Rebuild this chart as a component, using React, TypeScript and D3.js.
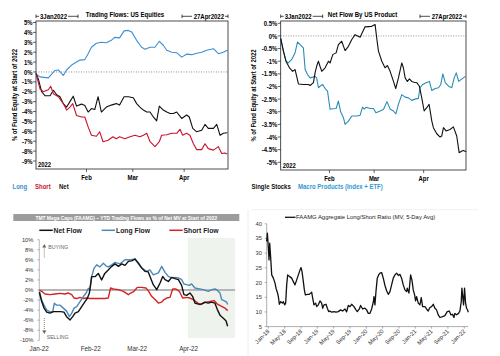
import React from 'react';
import * as d3 from 'd3';

type Pt = [number, number];

// ---------- Panel 1: Trading Flows: US Equities (x = day of 2022, Jan 1 = 0; y = %) ----------
const p1Long: Pt[] = [[0.9,-0.25],[2.9,-0.5],[7.95,-0.6],[12,0.15],[14,0.2],[17,-0.35],[19,0.2],[22,0.7],[25,1.0],[27,1.2],[30,1.25],[32,1.85],[34,2.5],[37,2.9],[40,3.0],[43,2.95],[46,3.2],[48,3.5],[51,3.45],[53.7,4.15],[56.3,4.2],[58.3,4.05],[61.3,3.2],[64.3,2.5],[66.4,2.3],[69.4,2.5],[72.4,2.5],[75,3.1],[77.4,2.7],[79.5,2.2],[82.5,2.0],[85.5,1.95],[88.5,1.5],[91.5,1.8],[94.6,1.75],[97.6,1.9],[100.6,2.0],[103.6,2.2],[107.7,2.35],[110.7,1.85],[113.7,2.0],[116.1,2.2]];
const p1NetX = [0.5,1.9,3.9,5.9,9,11,13,15,17,19,21,23,25,28,30,32,34,36,38,40,43,46,49,51,53.7,56.3,59.3,61.3,63.3,65.4,67.4,69.4,71.4,73.4,75,77.4,79.5,81.5,83.5,85.5,88.5,91.5,93.1,95.2,97.6,100.6,102.6,104.6,107.7,109.7,111.7,113.7,116.1];
const p1NetY = [-0.15,-0.7,-2.0,-2.4,-2.4,-1.85,-2.3,-2.5,-3.2,-3.55,-3.0,-2.45,-3.45,-3.25,-3.4,-4.05,-3.7,-3.8,-2.5,-4.05,-3.55,-3.35,-3.2,-3.35,-2.5,-2.5,-2.6,-3.2,-3.55,-3.85,-4.05,-4.05,-4.55,-4.95,-3.45,-3.85,-4.05,-4.2,-4.2,-4.05,-4.7,-4.35,-4.55,-5.7,-6.05,-5.9,-5.3,-5.7,-5.7,-5.3,-6.4,-6.2,-6.15];
const p1ShortX = [0.5,2.9,4.9,7.95,9.4,11,14,17,19,21,22.7,25,28,30,32,34,37,39,41,44,47,49,51,54.3,57.3,60.3,63.3,65.4,67.4,69.4,72.4,75,76.4,79.5,82.5,85.5,87.5,89.1,91.5,93.5,95.6,97.6,100.6,102.6,104.6,107.7,110.7,112.7,114.7,116.1];
const p1ShortY = [-0.15,-1.7,-2.0,-1.8,-1.45,-2.2,-2.5,-3.2,-3.85,-3.55,-3.2,-4.4,-4.55,-4.55,-5.55,-6.4,-6.5,-6.05,-7.05,-6.9,-6.55,-6.75,-6.55,-6.75,-6.55,-6.4,-6.55,-6.4,-6.2,-7.05,-7.55,-7.05,-6.4,-6.35,-6.2,-6.2,-5.8,-6.4,-6.2,-6.4,-7.25,-7.85,-7.85,-7.25,-7.75,-7.9,-7.55,-8.25,-8.2,-8.3];
const p1YTicks = [5,4,3,2,1,0,-1,-2,-3,-4,-5,-6,-7,-8,-9];
const monthTicks: [number, string][] = [[31,'Feb'],[59,'Mar'],[90,'Apr']];

// ---------- Panel 2: Net Flow By US Product ----------
const p2SingleX = [0.5,2.2,3.8,5.9,8,9.5,10.5,11.6,14.7,17.8,18.9,21,22,23,24.1,25.1,26.2,28.3,30.4,31.4,33.1,35.2,36.6,38.7,40.8,42.9,45,47.1,50.2,53.3,57.5,59.6,60.6,61.7,63.8,65.8,67.3,69,71.1,72.5,74.2,76.3,77.3,78.4,79.8,81.1,82.5,84,85.7,87.3,88.8,90.3,91.9,93.4,95.1,96.1,98.2,100.3,101.3,102.4,104,106.5,108.6,110.7,112.2,113.9,114.9,116.6];
const p2SingleY = [-0.1,-0.6,-1.0,-1.25,-1.4,-1.33,-1.6,-1.9,-1.92,-1.92,-1.96,-1.85,-1.46,-1.2,-1.0,-1.2,-1.4,-1.26,-1.0,-1.07,-0.74,-0.67,-0.34,-0.21,-0.58,-0.41,-0.14,0.05,-0.05,0.36,0.38,0.45,-0.08,-0.6,-1.0,-1.26,-1.17,-1.4,-1.8,-2.08,-1.66,-1.07,-1.26,-1.66,-1.8,-1.7,-1.8,-1.83,-1.85,-1.99,-2.45,-2.97,-2.84,-2.71,-3.37,-3.63,-3.87,-4.0,-3.96,-3.63,-3.76,-3.7,-3.6,-3.96,-4.62,-4.55,-4.53,-4.58];
const p2MacroX = [0.5,2.2,3.8,5.3,7.4,9.5,11,12.7,14.7,15.8,17.3,18.9,20.6,22,23,24.1,25.1,26.8,28.3,29.8,31.4,33.1,35.2,36.6,38.1,39.8,40.8,42.9,45,48.2,50.2,51.7,52.8,54,56.5,58.6,60.1,62.8,64.9,67,69.1,71.1,72.6,74.2,76.3,78.4,80.5,82.5,84.6,86.7,87.7,89.4,91.5,93.6,95.1,97.2,99.3,100.7,102,103.5,105.6,107.6,109.1,110.4,111.9,114,116.1];
const p2MacroY = [-0.1,-0.6,-1.0,-1.07,-0.93,-0.67,-0.24,-0.34,-0.47,-1.33,-1.53,-1.66,-1.63,-1.6,-1.66,-2.05,-1.99,-1.92,-2.08,-2.18,-2.9,-2.88,-2.87,-2.58,-3.01,-3.24,-3.5,-3.37,-3.17,-3.17,-3.14,-2.82,-2.9,-2.82,-2.87,-2.87,-3.04,-2.97,-2.9,-2.6,-2.9,-2.97,-3.08,-2.71,-2.32,-2.42,-2.45,-2.55,-2.5,-2.47,-2.05,-1.92,-1.85,-1.8,-2.16,-2.08,-2.05,-1.92,-1.5,-1.85,-1.99,-2.05,-1.66,-1.46,-1.8,-1.7,-1.6];
const p2YTicks = [0.5,0,-0.5,-1,-1.5,-2,-2.5,-3,-3.5,-4,-4.5,-5];

// ---------- Panel 3: TMT Mega Caps (FAAMG) YTD flows ----------
const p3Net: Pt[] = [[0.1,-0.45],[1.5,-2.3],[2.9,-3.6],[4.5,-4.4],[6.5,-4.6],[8.5,-4.3],[10.9,-4.3],[12.9,-4.3],[14.9,-4.4],[16.5,-5.3],[18.6,-5.95],[20.2,-5.3],[21.6,-4.6],[23.6,-4.3],[25.6,-3.3],[27.6,-2.3],[29,-1.65],[30.2,-0.66],[31.6,2.65],[33.6,2.65],[35.6,3.3],[37.6,2.0],[39.5,3.3],[41.6,3.97],[43.3,4.6],[45.7,5.2],[47.7,4.7],[49.7,5.2],[51.7,4.9],[53.7,5.7],[55.7,5.8],[57.7,6.15],[59.7,5.4],[61.7,4.4],[63.7,3.7],[65.7,3.6],[67.1,2.4],[68.7,1.06],[70.8,0.07],[72.8,1.4],[74.4,2.7],[75.8,2.05],[77.8,1.7],[79.8,2.5],[81.8,2.25],[83.8,2.05],[85.8,0.93],[87.2,-0.93],[88.8,-1.06],[90.8,-0.6],[92.4,-1.26],[93.8,-2.6],[95.8,-2.8],[97.8,-2.8],[99.8,-2.4],[101.8,-2.6],[103.8,-2.4],[105.8,-2.6],[107.3,-3.9],[108.9,-5.0],[110.9,-5.6],[112.5,-6.1],[113.5,-7.2]];
const p3Long: Pt[] = [[0.1,-0.3],[1.5,-2.0],[2.9,-3.0],[4.5,-4.0],[6.5,-4.3],[8.1,-4.4],[9.1,-2.65],[10.5,-3.0],[12.5,-3.0],[14.5,-3.6],[16.5,-4.2],[18.2,-5.3],[19.6,-4.6],[21,-3.6],[22.6,-3.3],[24.6,-2.3],[26.6,-1.3],[28.2,-0.66],[29.6,0.33],[30.6,0],[31.6,2.65],[33,4.3],[34.6,5.0],[36.6,4.6],[38.6,5.3],[40.2,4.8],[41.6,4.6],[43.7,5.0],[45.7,5.5],[48.7,5.2],[51.7,6.0],[54.7,6.0],[57.7,6.15],[59.7,5.2],[61.7,4.4],[64.7,3.7],[66.7,4.0],[68.7,3.0],[71.8,3.4],[73.8,4.7],[75.8,3.5],[77.8,2.7],[79.8,2.4],[81.8,2.5],[83.8,2.4],[85.8,2.05],[87.2,1.2],[88.8,1.06],[90.4,0.93],[91.8,1.2],[93.8,0.4],[95.8,0.26],[98.8,0.07],[101.9,-0.26],[103.9,0.07],[105.9,0.2],[106.9,0.07],[108.9,-0.6],[109.9,-1.9],[111.3,-2.1],[112.9,-2.4],[113.5,-2.9]];
const p3Short: Pt[] = [[0.1,0],[1.5,-0.26],[3.5,-0.8],[6.5,-0.93],[9.5,-0.8],[12.5,-0.66],[15.5,-0.8],[17.6,-0.6],[19.6,-0.93],[21,-1.6],[22.6,-1.7],[24.6,-1.46],[26.6,-1.7],[28.6,-1.6],[30.6,-1.7],[33.6,-1.7],[36.6,-1.7],[39.6,-1.7],[41.6,-1.6],[43,0.4],[44.6,0.2],[47.7,0.07],[50.7,-0.26],[53.7,-0.93],[55.1,-0.6],[57.1,-0.26],[59.1,0.53],[61.7,0.53],[64.3,0.4],[65.7,-0.13],[67.7,-1.26],[69.8,-1.9],[71.8,-2.6],[73.8,-2.4],[75.2,-1.9],[76.8,-1.6],[78.8,-1.46],[80.4,0.2],[82.4,0.2],[84.4,-0.26],[86.4,-1.6],[88.8,-1.46],[90.8,-1.6],[92.8,-1.9],[94.8,-2.4],[96.8,-2.9],[98.8,-2.6],[100.8,-2.4],[102.9,-2.25],[105.3,-2.1],[107.3,-2.8],[109.9,-3.25],[111.9,-3.6],[113.5,-4.1]];
const p3YTicks = [10,8,6,4,2,0,-2,-4,-6,-8,-10];
const p3XTicks: [number, string][] = [[0,'Jan-22'],[31,'Feb-22'],[59,'Mar-22'],[90,'Apr-22']];

// ---------- Panel 4: FAAMG Aggregate Long/Short Ratio (x = months since Jan-18) ----------
const p4Ratio: Pt[] = [[-0.41,34],[-0.24,36.8],[0,31.7],[0.16,27.7],[0.33,33.4],[0.57,28.3],[0.82,22.6],[1.22,21.5],[1.63,19.8],[1.88,18],[2.2,16.7],[2.45,15.2],[2.69,12.6],[3.02,13.5],[3.43,13],[3.67,13.5],[4.0,12.4],[4.24,13],[4.49,19.2],[4.73,22.6],[5.14,22.1],[5.71,21.5],[6.12,20.3],[6.53,19.2],[6.94,20.9],[7.35,22.6],[7.76,24.3],[8.0,25.1],[8.24,23.8],[8.57,20.3],[8.82,17.5],[9.06,15.8],[9.55,16],[10.04,16],[10.37,16.4],[10.61,16.7],[10.86,14.7],[11.18,12.4],[11.59,13],[11.84,11.8],[12.24,12.4],[12.65,13.75],[13.06,13],[13.31,11.25],[13.63,12.4],[14.12,12.6],[14.45,11.25],[14.78,10.1],[15.1,10.3],[15.51,9.9],[16.08,10.1],[16.57,9.9],[17.14,10.1],[17.71,10.7],[18.2,10.3],[18.78,11],[19.18,10],[19.59,12.2],[20.0,11.8],[20.41,12.6],[20.98,11.8],[21.47,10.7],[21.8,10.1],[22.29,11],[22.61,12.2],[23.1,11],[23.67,11.25],[24.08,10.7],[24.49,9.5],[24.9,9.5],[25.31,11],[25.71,13.3],[25.88,15.2],[26.12,12.4],[26.37,16.9],[26.69,21.5],[27.02,22.6],[27.35,23.2],[27.76,23.4],[28.16,21.5],[28.57,19],[28.98,17.2],[29.39,16],[29.8,16.9],[30.2,19.2],[30.61,21.5],[31.02,22.6],[31.43,23.2],[31.84,22.4],[32.24,22.8],[32.65,21.5],[33.06,19.2],[33.47,17.5],[33.88,16.9],[34.04,18.1],[34.45,16.4],[34.86,22.6],[35.18,20.9],[35.51,17.5],[35.84,15.8],[36.08,13.75],[36.33,15.2],[36.73,13],[37.14,12.4],[37.47,14.9],[37.8,11.8],[38.37,11.8],[38.78,11],[39.18,10.3],[39.59,11.5],[40.0,11.8],[40.41,12.6],[40.82,11.25],[41.22,10.7],[41.63,9],[42.04,8.1],[42.69,8.4],[43.27,8.75],[43.84,10.1],[44.33,10.3],[44.73,9],[45.14,9.2],[45.47,8.1],[45.71,9.5],[46.12,9],[46.61,9.5],[46.94,10.3],[47.27,13.5],[47.43,18.1],[47.67,14.7],[47.84,12.4],[48.08,18.1],[48.33,13],[48.57,11.25],[48.82,10.7],[48.98,9.9]];
const p4YTicks = [40,35,30,25,20,15,10,5];
const p4XLabels = ['Jan-18','May-18','Sep-18','Jan-19','May-19','Sep-19','Jan-20','May-20','Sep-20','Jan-21','May-21','Sep-21','Jan-22'];

const SANS = "'Liberation Sans', Arial, sans-serif";
const SQ = 0.8; // horizontal squeeze imitating a condensed bold face

const zip = (xs: number[], ys: number[]): Pt[] => xs.map((x, i) => [x, ys[i]]);

function NT({ x, y, anchor = 'start', size = 7.5, fill = '#000', rotate, children }:
  { x: number; y: number; anchor?: 'start' | 'middle' | 'end'; size?: number; fill?: string; rotate?: number; children: React.ReactNode }) {
  const tr = `translate(${x},${y})${rotate !== undefined ? ` rotate(${rotate})` : ''} scale(${SQ},1)`;
  return <text transform={tr} textAnchor={anchor} fontSize={size} fontWeight="bold" fontFamily={SANS} fill={fill}>{children}</text>;
}

function Path({ data, x, y, color, width }: { data: Pt[]; x: any; y: any; color: string; width: number }) {
  const line = d3.line<Pt>().x(d => x(d[0])).y(d => y(d[1]));
  return <path d={line(data) || ''} fill="none" stroke={color} strokeWidth={width} strokeLinejoin="round" />;
}

function DateTag({ x1, x2, y, label, anchor }: { x1: number; x2: number; y: number; label: string; anchor: 'start' | 'end' }) {
  const textW = anchor === 'start' ? 27 : 31;
  return (
    <g stroke="#000" strokeWidth={0.7}>
      <line x1={x1} x2={x1} y1={y - 1.8} y2={y + 1.8} />
      <line x1={x2} x2={x2} y1={y - 1.8} y2={y + 1.8} />
      {anchor === 'start' ? (
        <>
          <line x1={x1} x2={x1 + 3} y1={y} y2={y} />
          <line x1={x1 + 5 + textW} x2={x2} y1={y} y2={y} />
          <g stroke="none"><NT x={x1 + 4} y={y + 2.6} size={7.5}>{label}</NT></g>
        </>
      ) : (
        <>
          <line x1={x1} x2={x2 - 5 - textW} y1={y} y2={y} />
          <line x1={x2 - 3} x2={x2} y1={y} y2={y} />
          <g stroke="none"><NT x={x2 - 4} y={y + 2.6} anchor="end" size={7.5}>{label}</NT></g>
        </>
      )}
    </g>
  );
}

function TopPanel(props: {
  left: number; right: number; top: number; bottom: number; labelOff: number;
  yDomain: [number, number]; yRange: [number, number]; yTicks: number[];
  title: string; titleX: number; series: { data: Pt[]; color: string }[];
}) {
  const { left, right, top, bottom, labelOff, yDomain, yRange, yTicks, title, titleX, series } = props;
  const x = d3.scaleLinear().domain([0.5, 116.5]).range([left, right]);
  const y = d3.scaleLinear().domain(yDomain).range(yRange);
  return (
    <g>
      <NT x={titleX} y={16.8} anchor="middle" size={7.6}>{title}</NT>
      <DateTag x1={left} x2={left + 42} y={16.3} label="3Jan2022" anchor="start" />
      <DateTag x1={right - 46} x2={right} y={16.3} label="27Apr2022" anchor="end" />
      <line x1={left} x2={right} y1={y(0)} y2={y(0)} stroke="#777" strokeWidth={0.8} strokeDasharray="1,1.5" />
      {series.map((s, i) => <Path key={i} data={s.data} x={x} y={y} color={s.color} width={1.1} />)}
      <rect x={left} y={top} width={right - left} height={bottom - top} fill="none" stroke="#222" strokeWidth={0.8} />
      {yTicks.map(t => (
        <g key={t}>
          <line x1={left - 3} x2={left} y1={y(t)} y2={y(t)} stroke="#222" strokeWidth={0.7} />
          <NT x={left - 3.5} y={y(t) + 2.6} anchor="end" size={7.4}>{`${t}%`}</NT>
        </g>
      ))}
      {monthTicks.map(([d, l]) => (
        <g key={l}>
          <line x1={x(d)} x2={x(d)} y1={bottom} y2={bottom + 3} stroke="#222" strokeWidth={0.7} />
          <NT x={x(d)} y={bottom + 11} anchor="middle" size={7.4}>{l}</NT>
        </g>
      ))}
      <NT x={left + 2} y={bottom - 2} size={7.4}>2022</NT>
      <NT x={left - labelOff} y={(top + bottom) / 2} anchor="middle" size={7.4} rotate={-90}>% of Fund Equity at Start of 2022</NT>
    </g>
  );
}

export default function App() {
  const x3 = d3.scaleLinear().domain([0, 118]).range([39.2, 235.1]);
  const y3 = d3.scaleLinear().domain([-10, 10]).range([340.3, 239.7]);
  const x4 = d3.scaleLinear().domain([-0.41, 49]).range([266.7, 468.3]);
  const y4 = d3.scaleLinear().domain([5, 40]).range([326.6, 223.8]);

  return (
    <svg width={500} height={356} style={{ position: 'absolute', left: 0, top: 0, background: '#fff' }} fontFamily={SANS}>
      <rect width={500} height={356} fill="#fff" />
      {/* Panel 1 */}
      <TopPanel left={36} right={228} top={21} bottom={169} labelOff={19} yDomain={[-9, 5]} yRange={[161, 22.5]} yTicks={p1YTicks}
        title="Trading Flows: US Equities" titleX={125}
        series={[{ data: p1Long, color: '#3d8fd4' }, { data: zip(p1NetX, p1NetY), color: '#111' }, { data: zip(p1ShortX, p1ShortY), color: '#c8142e' }]} />
      <NT x={12.5} y={188.5} fill="#3d8fd4">Long</NT>
      <NT x={35} y={188.5} fill="#c8142e">Short</NT>
      <NT x={59} y={188.5} fill="#111">Net</NT>

      {/* Panel 2 */}
      <TopPanel left={280.7} right={466} top={21} bottom={170} labelOff={24.5} yDomain={[-5, 0.5]} yRange={[162.3, 23.3]} yTicks={p2YTicks}
        title="Net Flow By US Product" titleX={362.5}
        series={[{ data: zip(p2MacroX, p2MacroY), color: '#2a8db4' }, { data: zip(p2SingleX, p2SingleY), color: '#111' }]} />
      <NT x={251.5} y={188.5} fill="#111">Single Stocks</NT>
      <NT x={298} y={188.5} fill="#2f9bd0">Macro Products (Index + ETF)</NT>

      {/* separators */}
      <line x1={248} x2={248} y1={210} y2={356} stroke="#eee" strokeWidth={1} />
      <line x1={252} x2={478} y1={209.7} y2={209.7} stroke="#f0f0f0" strokeWidth={1} />

      {/* Panel 3 */}
      <rect x={13.3} y={214} width={226} height={7} fill="#9c9c9c" />
      <text x={126.3} y={219.6} textAnchor="middle" fontSize={4.9} fontWeight="bold" fill="#fff">TMT Mega Caps (FAAMG) – YTD Trading Flows as % of Net MV at Start of 2022</text>
      <g fontSize={6.8} fill="#222">
        <line x1={39.3} x2={52.7} y1={230.3} y2={230.3} stroke="#111" strokeWidth={1.5} />
        <text x={53.5} y={232.6} fontWeight="bold">Net Flow</text>
        <line x1={101.7} x2={115} y1={230.3} y2={230.3} stroke="#4d88b9" strokeWidth={1.5} />
        <text x={116} y={232.6} fontWeight="bold">Long Flow</text>
        <line x1={169.3} x2={182.7} y1={230.3} y2={230.3} stroke="#d42323" strokeWidth={1.5} />
        <text x={183.5} y={232.6} fontWeight="bold">Short Flow</text>
      </g>
      <rect x={x3(89.5)} y={238} width={235.1 - x3(89.5)} height={100} fill="#eef3ee" />
      <line x1={39.3} x2={235.1} y1={y3(0)} y2={y3(0)} stroke="#b5b5b5" strokeWidth={2} />
      <line x1={39.3} x2={39.3} y1={y3(10)} y2={y3(-10)} stroke="#888" strokeWidth={0.6} />
      {p3YTicks.map(t => (
        <g key={t}>
          <line x1={37.3} x2={39.3} y1={y3(t)} y2={y3(t)} stroke="#888" strokeWidth={0.6} />
          <text x={33.5} y={y3(t) + 2} textAnchor="end" fontSize={5.8} fill="#333">{t}%</text>
        </g>
      ))}
      {p3XTicks.map(([d, l]) => (
        <text key={l} x={x3(d)} y={350.8} textAnchor="middle" fontSize={6.3} fill="#333">{l}</text>
      ))}
      <Path data={p3Short} x={x3} y={y3} color="#d42323" width={1.4} />
      <Path data={p3Long} x={x3} y={y3} color="#4d88b9" width={1.4} />
      <Path data={p3Net} x={x3} y={y3} color="#111" width={1.4} />
      <g stroke="#666" strokeWidth={0.8}>
        <line x1={44.3} x2={44.3} y1={246.5} y2={258} strokeDasharray="1,1" />
        <path d="M42.3,247.5 L44.3,244 L46.3,247.5 Z" fill="#666" stroke="none" />
        <line x1={44.3} x2={44.3} y1={318} y2={331} strokeDasharray="1,1" />
        <path d="M42.3,330.5 L44.3,334 L46.3,330.5 Z" fill="#666" stroke="none" />
      </g>
      <text x={48.3} y={248.8} fontSize={5.2} fill="#666">BUYING</text>
      <text x={46.7} y={338.5} fontSize={5.2} fill="#666">SELLING</text>

      {/* Panel 4 */}
      <line x1={285} x2={295.5} y1={217.3} y2={217.3} stroke="#111" strokeWidth={1.3} />
      <text x={296} y={219.3} fontSize={5.9} fill="#222">FAAMG Aggregate Long/Short Ratio (MV, 5-Day Avg)</text>
      <line x1={x4(-0.41)} x2={x4(-0.41)} y1={y4(40)} y2={y4(5)} stroke="#777" strokeWidth={0.6} />
      <line x1={x4(-0.41)} x2={468.3} y1={y4(5)} y2={y4(5)} stroke="#777" strokeWidth={0.6} />
      {p4YTicks.map(t => (
        <g key={t}>
          <line x1={x4(-0.41) - 2} x2={x4(-0.41)} y1={y4(t)} y2={y4(t)} stroke="#777" strokeWidth={0.6} />
          <text x={262} y={y4(t) + 2} textAnchor="end" fontSize={5.8} fill="#333">{t}</text>
        </g>
      ))}
      {p4XLabels.map((l, i) => {
        const xv = x4(i * 4);
        return (
          <g key={l}>
            <line x1={xv} x2={xv} y1={y4(5)} y2={y4(5) + 2} stroke="#777" strokeWidth={0.6} />
            <text transform={`translate(${xv + 1.5},${y4(5) + 5}) rotate(-45)`} textAnchor="end" fontSize={5.8} fill="#333">{l}</text>
          </g>
        );
      })}
      <Path data={p4Ratio} x={x4} y={y4} color="#111" width={1.3} />
    </svg>
  );
}
